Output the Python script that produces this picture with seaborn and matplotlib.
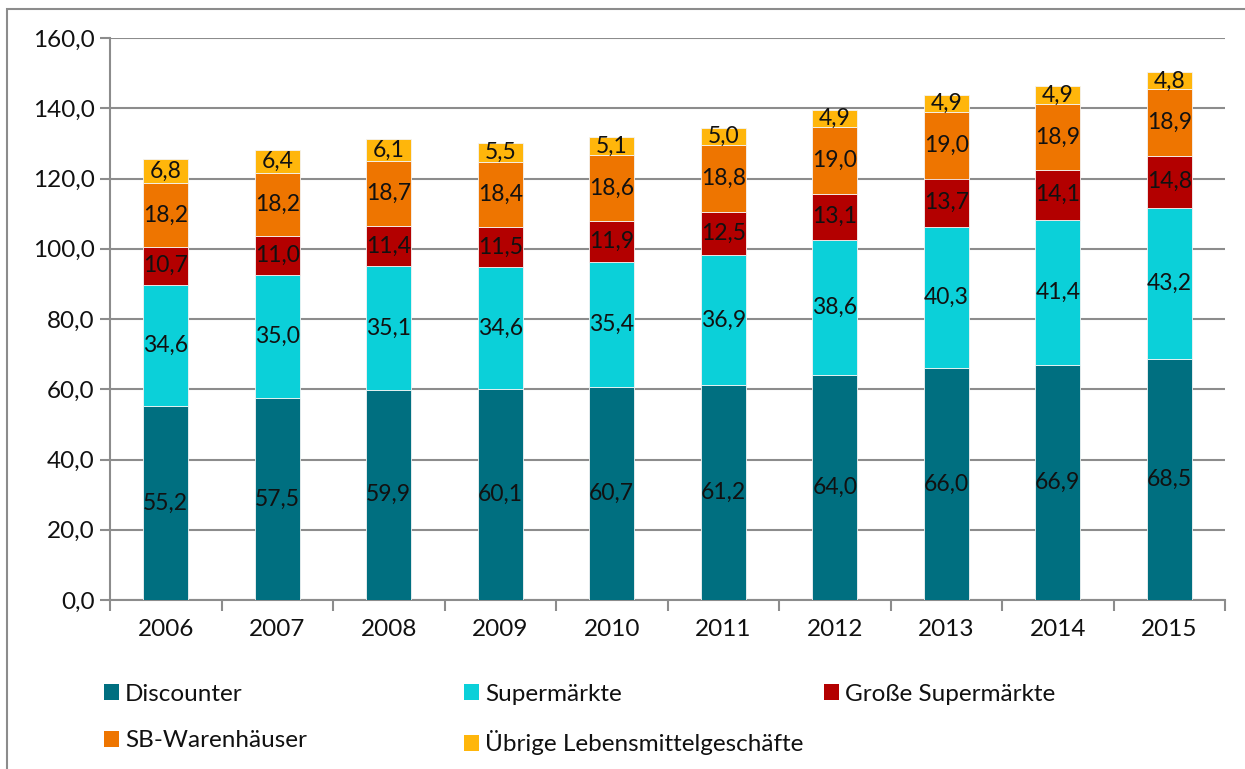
import matplotlib
matplotlib.use("Agg")
import matplotlib.pyplot as plt
import seaborn as sns
import numpy as np
import pandas as pd
from matplotlib.patches import Rectangle, Patch

years = ["2006", "2007", "2008", "2009", "2010", "2011", "2012", "2013", "2014", "2015"]
discounter = [55.2, 57.5, 59.9, 60.1, 60.7, 61.2, 64.0, 66.0, 66.9, 68.5]
supermaerkte = [34.6, 35.0, 35.1, 34.6, 35.4, 36.9, 38.6, 40.3, 41.4, 43.2]
grosse_supermaerkte = [10.7, 11.0, 11.4, 11.5, 11.9, 12.5, 13.1, 13.7, 14.1, 14.8]
sb_warenhaeuser = [18.2, 18.2, 18.7, 18.4, 18.6, 18.8, 19.0, 19.0, 18.9, 18.9]
uebrige = [6.8, 6.4, 6.1, 5.5, 5.1, 5.0, 4.9, 4.9, 4.9, 4.8]

series_names = ["Discounter", "Supermärkte", "Große Supermärkte", "SB-Warenhäuser",
                "Übrige Lebensmittelgeschäfte"]
series_values = [discounter, supermaerkte, grosse_supermaerkte, sb_warenhaeuser, uebrige]
colors = ["#006F80", "#0BD0D9", "#B30000", "#EE7500", "#FFB60B"]
y_ticks = [0, 20, 40, 60, 80, 100, 120, 140, 160]

sns.set_theme(style="white")
plt.rcParams["font.family"] = ["Lato", "DejaVu Sans"]

fig = plt.figure(figsize=(12.45, 7.69), dpi=100)
ax = fig.add_axes([110 / 1245, 1 - 600 / 769, 1115 / 1245, 562 / 769])

bottom = np.zeros(len(years))
for name, vals, col in zip(series_names, series_values, colors):
    df = pd.DataFrame({"year": years, "value": vals})
    sns.barplot(data=df, x="year", y="value", color=col, bottom=bottom.copy(),
                width=0.4, ax=ax, edgecolor="#f4f4f4", linewidth=0.6,
                saturation=1, zorder=3, errorbar=None)
    for i, v in enumerate(vals):
        ax.text(i, bottom[i] + v / 2, f"{v:.1f}".replace(".", ","),
                ha="center", va="center", fontsize=16.5, color="#111111", zorder=5)
    bottom += np.array(vals)

ax.set_xlim(-0.5, len(years) - 0.5)
ax.set_ylim(0, 160)
ax.set_yticks(y_ticks)
ax.set_yticklabels([f"{t:.1f}".replace(".", ",") for t in y_ticks], fontsize=17.5, color="#111111")
ax.set_xticks(range(len(years)))
ax.set_xticklabels(years, fontsize=17.5, color="#111111")
ax.set_xlabel("")
ax.set_ylabel("")
ax.grid(axis="y", color="#8c8c8c", linewidth=1.5, zorder=0)
ax.set_axisbelow(True)

for s in ["top", "right"]:
    ax.spines[s].set_visible(False)
for s in ["left", "bottom"]:
    ax.spines[s].set_color("#8c8c8c")
    ax.spines[s].set_linewidth(1.5)

ax.tick_params(axis="y", which="major", length=7, width=1.5, color="#8c8c8c",
               direction="out", left=True, pad=4)
# x ticks: labels at centers, tick marks at boundaries
ax.tick_params(axis="x", which="major", length=0, pad=14)
ax.set_xticks(np.arange(-0.5, len(years), 1.0), minor=True)
ax.tick_params(axis="x", which="minor", length=8, width=1.5, color="#8c8c8c",
               direction="out", bottom=True)

# Legend, three columns
def make_handle(i):
    return Patch(facecolor=colors[i], edgecolor="none", label=series_names[i])

cols = [[0, 3], [1, 4], [2]]
xs = [94, 454, 814]
for c, x0 in zip(cols, xs):
    fig.legend(handles=[make_handle(i) for i in c], loc="upper left",
               bbox_to_anchor=(x0 / 1245, 1 - 674 / 769), frameon=False,
               fontsize=17.5, handlelength=0.62, handleheight=0.62,
               handletextpad=0.25, labelspacing=1.05, borderaxespad=0,
               labelcolor="#111111")

fig.patches.append(Rectangle((7 / 1245, -0.02), 1.05, 1 - 9 / 769 + 0.02,
                             transform=fig.transFigure, fill=False,
                             edgecolor="#8c8c8c", linewidth=1.5))

fig.savefig("out.png", dpi=100)
